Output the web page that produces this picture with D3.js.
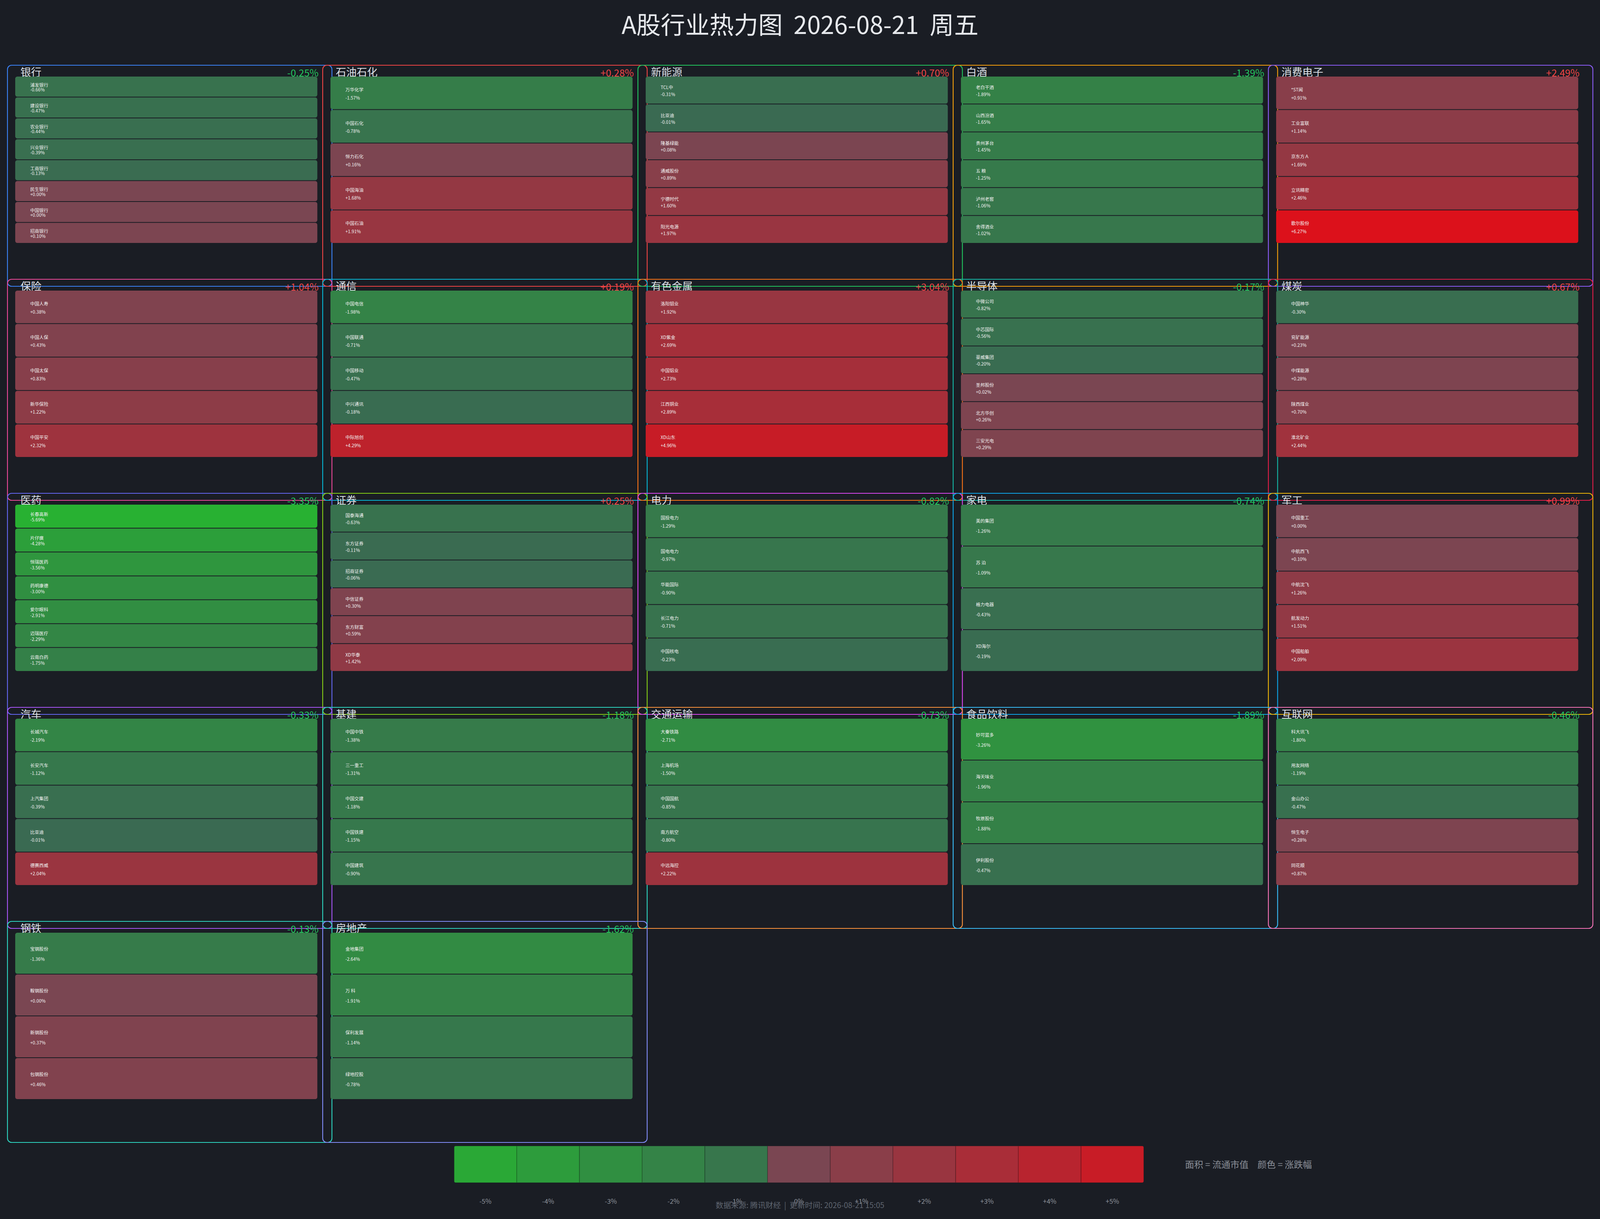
<!DOCTYPE html>
<html>
<head>
<meta charset="utf-8">
<title>A股行业热力图</title>
<style>
  html, body { margin: 0; padding: 0; width: 100%; height: 100%; overflow: hidden; background: #1a1d24; }
  svg { display: block; font-family: "Noto Sans CJK SC", "Noto Sans", sans-serif; }
</style>
</head>
<body>
<svg id="chart"></svg>
<script src="https://d3js.org/d3.v7.min.js"></script>
<script>
// sectors, row by row (5 per row)
const sectors = ["银行","石油石化","新能源","白酒","消费电子",
                 "保险","通信","有色金属","半导体","煤炭",
                 "医药","证券","电力","家电","军工",
                 "汽车","基建","交通运输","食品饮料","互联网",
                 "钢铁","房地产"];
const sectorChange = [-0.25, 0.28, 0.70, -1.39, 2.49,
                      1.04, 0.19, 3.04, -0.17, 0.67,
                      -3.35, 0.25, -0.82, -0.74, 0.99,
                      -0.33, -1.18, -0.73, -1.89, -0.46,
                      -0.13, -1.62];
const stockNames = [
  ["浦发银行","建设银行","农业银行","兴业银行","工商银行","民生银行","中国银行","招商银行"],
  ["万华化学","中国石化","恒力石化","中国海油","中国石油"],
  ["TCL中","比亚迪","隆基绿能","通威股份","宁德时代","阳光电源"],
  ["老白干酒","山西汾酒","贵州茅台","五 粮","泸州老窖","舍得酒业"],
  ["*ST闻","工业富联","京东方Ａ","立讯精密","歌尔股份"],
  ["中国人寿","中国人保","中国太保","新华保险","中国平安"],
  ["中国电信","中国联通","中国移动","中兴通讯","中际旭创"],
  ["洛阳钼业","XD紫金","中国铝业","江西铜业","XD山东"],
  ["中微公司","中芯国际","豪威集团","圣邦股份","北方华创","三安光电"],
  ["中国神华","兖矿能源","中煤能源","陕西煤业","淮北矿业"],
  ["长春高新","片仔癀","恒瑞医药","药明康德","爱尔眼科","迈瑞医疗","云南白药"],
  ["国泰海通","东方证券","招商证券","中信证券","东方财富","XD华泰"],
  ["国投电力","国电电力","华能国际","长江电力","中国核电"],
  ["美的集团","苏 泊","格力电器","XD海尔"],
  ["中国重工","中航西飞","中航沈飞","航发动力","中国船舶"],
  ["长城汽车","长安汽车","上汽集团","比亚迪","德赛西威"],
  ["中国中铁","三一重工","中国交建","中国铁建","中国建筑"],
  ["大秦铁路","上海机场","中国国航","南方航空","中远海控"],
  ["妙可蓝多","海天味业","牧原股份","伊利股份"],
  ["科大讯飞","用友网络","金山办公","恒生电子","同花顺"],
  ["宝钢股份","鞍钢股份","新钢股份","包钢股份"],
  ["金地集团","万 科","保利发展","绿地控股"]
];
const stockChange = [
  [-0.66, -0.47, -0.44, -0.39, -0.13, 0.00, 0.00, 0.10],
  [-1.57, -0.78, 0.16, 1.68, 1.91],
  [-0.31, -0.01, 0.08, 0.89, 1.60, 1.97],
  [-1.89, -1.65, -1.45, -1.25, -1.06, -1.02],
  [0.91, 1.14, 1.69, 2.46, 6.27],
  [0.38, 0.43, 0.83, 1.22, 2.32],
  [-1.98, -0.71, -0.47, -0.18, 4.29],
  [1.92, 2.69, 2.73, 2.89, 4.96],
  [-0.82, -0.56, -0.20, 0.02, 0.26, 0.29],
  [-0.30, 0.23, 0.28, 0.70, 2.44],
  [-5.69, -4.28, -3.56, -3.00, -2.91, -2.29, -1.75],
  [-0.63, -0.11, -0.06, 0.30, 0.59, 1.42],
  [-1.29, -0.97, -0.90, -0.71, -0.23],
  [-1.26, -1.09, -0.43, -0.19],
  [0.00, 0.10, 1.26, 1.51, 2.09],
  [-2.19, -1.12, -0.39, -0.01, 2.04],
  [-1.38, -1.31, -1.18, -1.15, -0.90],
  [-2.71, -1.50, -0.85, -0.80, 2.22],
  [-3.26, -1.96, -1.88, -0.47],
  [-1.80, -1.19, -0.47, 0.28, 0.87],
  [-1.36, 0.00, 0.37, 0.46],
  [-2.64, -1.91, -1.14, -0.78]
];
const legendTicks = [-5, -4, -3, -2, -1, 0, 1, 2, 3, 4, 5];

// outline colour for each sector box
const borderColors = ["#3b82f6","#ef4444","#22c55e","#f59e0b","#8b5cf6",
                      "#ec4899","#06b6d4","#f97316","#14b8a6","#e11d48",
                      "#6366f1","#84cc16","#d946ef","#0ea5e9","#eab308",
                      "#a855f7","#2dd4bf","#fb923c","#38bdf8","#f472b6",
                      "#2dd4bf","#818cf8"];

// colour: two linear ramps, not clamped
const downColor = d3.scaleLinear().domain([-5, 0]).range(["#2aa836", "#3a6a52"]);
const upColor = d3.scaleLinear().domain([0, 5]).range(["#7a4652", "#c81c26"]);
const color = v => v < 0 ? downColor(v) : upColor(v);
const fmt = v => (v >= 0 ? "+" : "") + v.toFixed(2) + "%";

// layout is designed on a 5148 x 3121 page, then fitted to the window
const RW = 5148, RH = 3121;
const W = window.innerWidth || RW, H = window.innerHeight || RH;
const sx = W / RW, sy = H / RH, fs = Math.sqrt(sx * sy);
const X = d3.scaleLinear().domain([0, RW]).range([0, W]);
const Y = d3.scaleLinear().domain([0, RH]).range([0, H]);

const svg = d3.select("#chart").attr("width", W).attr("height", H);
svg.append("rect").attr("width", W).attr("height", H).attr("fill", "#1a1d24");

svg.append("text")
  .attr("x", X(RW / 2)).attr("y", Y(60))
  .attr("text-anchor", "middle").attr("dominant-baseline", "central")
  .attr("fill", "#e6e8ec").attr("font-size", 70 * fs)
  .attr("xml:space", "preserve")
  .text("A股行业热力图  2026-08-21  周五");

// grid of sector panels
const colX = d3.scaleLinear().domain([0, 4]).range([X(24), X(4081)]);
const rowY = d3.scaleLinear().domain([0, 4]).range([Y(167), Y(2359)]);
const boxW = 1044 * sx, boxH = 566 * sy;

sectors.forEach((name, i) => {
  const x0 = colX(i % 5), y0 = rowY(Math.floor(i / 5));
  const g = svg.append("g");

  g.append("rect")
    .attr("x", x0).attr("y", y0).attr("width", boxW).attr("height", boxH)
    .attr("rx", 12 * fs).attr("fill", "none")
    .attr("stroke", borderColors[i]).attr("stroke-width", 2.5 * fs);

  g.append("text")
    .attr("x", x0 + 42 * sx).attr("y", y0 + 16 * sy)
    .attr("dominant-baseline", "central")
    .attr("fill", "#dde1e7").attr("font-size", 30 * fs)
    .text(name);

  g.append("text")
    .attr("x", x0 + 1001 * sx).attr("y", y0 + 18 * sy)
    .attr("text-anchor", "end").attr("dominant-baseline", "central")
    .attr("fill", sectorChange[i] < 0 ? "#22c55e" : "#ef4444")
    .attr("font-size", 28 * fs)
    .text(fmt(sectorChange[i]));

  const rows = stockNames[i].map((n, k) => ({ key: k, name: n, v: stockChange[i][k] }));
  const y = d3.scaleBand().domain(rows.map(d => d.key)).range([y0 + 29 * sy, y0 + 457 * sy]);
  const tx = x0 + 25 * sx, tw = 972 * sx;

  const tile = g.selectAll("g.tile").data(rows).enter().append("g").attr("class", "tile");
  tile.append("rect")
    .attr("x", tx).attr("y", d => y(d.key))
    .attr("width", tw).attr("height", y.bandwidth() - 2 * sy)
    .attr("rx", 6 * fs).attr("fill", d => color(d.v));
  tile.append("text")
    .attr("x", tx + 48 * sx).attr("y", d => y(d.key) + y.bandwidth() * 0.385)
    .attr("dominant-baseline", "central")
    .attr("fill", "#f2f2f2").attr("font-size", 13 * fs)
    .attr("xml:space", "preserve")
    .text(d => d.name);
  tile.append("text")
    .attr("x", tx + 48 * sx).attr("y", d => y(d.key) + y.bandwidth() * 0.625)
    .attr("dominant-baseline", "central")
    .attr("fill", "#f2f2f2").attr("font-size", 13 * fs)
    .text(d => fmt(d.v));
});

// legend
const lx = d3.scaleBand().domain(legendTicks).range([X(1461), X(3680)]);
const lg = svg.append("g");
lg.append("clipPath").attr("id", "legclip")
  .append("rect").attr("x", X(1461)).attr("y", Y(2934))
  .attr("width", X(3680) - X(1461)).attr("height", 94 * sy).attr("rx", 5 * fs);
lg.append("g").attr("clip-path", "url(#legclip)")
  .selectAll("rect").data(legendTicks).enter().append("rect")
  .attr("x", d => lx(d)).attr("y", Y(2934))
  .attr("width", lx.bandwidth()).attr("height", 94 * sy)
  .attr("fill", d => color(d))
  .attr("stroke", "rgba(0,0,0,0.22)").attr("stroke-width", 2 * fs);
lg.selectAll("text").data(legendTicks).enter().append("text")
  .attr("x", d => lx(d) + lx.bandwidth() / 2).attr("y", Y(3074))
  .attr("text-anchor", "middle").attr("dominant-baseline", "central")
  .attr("fill", "#8c919a").attr("font-size", 19 * fs)
  .text(d => (d > 0 ? "+" : "") + d + "%");

svg.append("text")
  .attr("x", X(3813)).attr("y", Y(2980))
  .attr("dominant-baseline", "central")
  .attr("fill", "#8a8f98").attr("font-size", 26 * fs)
  .text("面积 = 流通市值　颜色 = 涨跌幅");

svg.append("text")
  .attr("x", X(RW / 2)).attr("y", Y(3084))
  .attr("text-anchor", "middle").attr("dominant-baseline", "central")
  .attr("fill", "#5f6570").attr("font-size", 22 * fs)
  .attr("xml:space", "preserve")
  .text("数据来源: 腾讯财经  |  更新时间: 2026-08-21 15:05");
</script>
</body>
</html>
